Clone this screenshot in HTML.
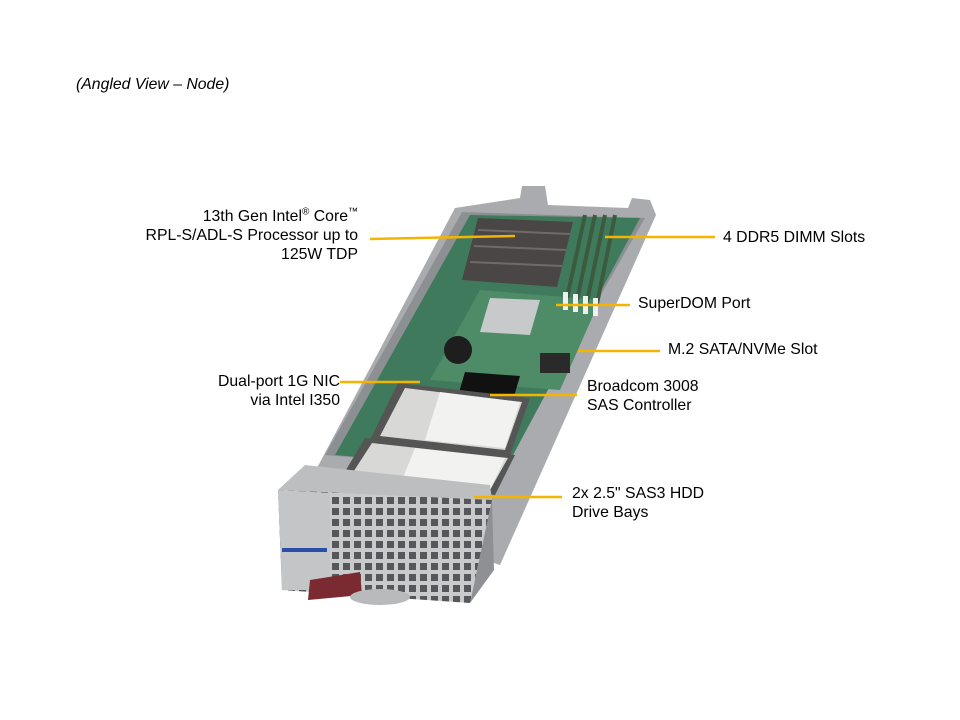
<!DOCTYPE html>
<html><head><meta charset="utf-8"><style>
body{margin:0;background:#fff;}
#c{position:relative;width:960px;height:720px;overflow:hidden;font-family:"Liberation Sans",Arial,sans-serif;font-size:15.8px;color:#000;}
.t{position:absolute;line-height:19px;white-space:nowrap;}
.r{text-align:right;}
sup{font-size:10px;line-height:0;}
</style></head><body><div id="c">
<svg width="960" height="720" style="position:absolute;left:0;top:0">
<defs>
<pattern id="mesh" width="11" height="11" patternUnits="userSpaceOnUse">
<rect width="11" height="11" fill="#c9cacc"/><rect x="2" y="2" width="7" height="7" fill="#55575a"/>
</pattern>
</defs>
<polygon points="455,208 520,198 522,186 545,186 548,205 628,208 632,198 650,200 656,215 500,565 300,500" fill="#a9abae"/>
<polygon points="462,212 645,218 500,470 325,455" fill="#8d9092"/>
<polygon points="470,215 640,218 505,470 335,455" fill="#3f7a5c"/>
<polygon points="480,290 600,300 560,390 430,380" fill="#4e8c68"/>
<polygon points="478,218 573,222 557,287 462,280" fill="#4a4646"/>
<g stroke="#6e6a68" stroke-width="2"><line x1="478" y1="230" x2="570" y2="234"/><line x1="474" y1="246" x2="566" y2="250"/><line x1="470" y1="262" x2="562" y2="266"/></g>
<g stroke="#3c5a3e" stroke-width="4"><line x1="585" y1="215" x2="567" y2="298"/><line x1="595" y1="215" x2="577" y2="300"/><line x1="605" y1="215" x2="587" y2="302"/><line x1="615" y1="215" x2="597" y2="304"/></g>
<g fill="#eef0f2"><rect x="563" y="292" width="5" height="18"/><rect x="573" y="294" width="5" height="18"/><rect x="583" y="296" width="5" height="18"/><rect x="593" y="298" width="5" height="18"/></g>
<polygon points="490,298 540,300 530,335 480,332" fill="#c8c9cb"/>
<circle cx="458" cy="350" r="14" fill="#1e1e1e"/>
<rect x="540" y="353" width="30" height="20" fill="#2a2a2a"/>
<polygon points="465,372 520,376 510,410 455,406" fill="#111"/>
<polygon points="398,383 530,398 510,455 370,440" fill="#555"/>
<polygon points="405,388 522,402 505,450 380,436" fill="#d8d8d6"/>
<polygon points="440,392 520,402 505,448 425,440" fill="#f2f2f0"/>
<polygon points="365,438 515,455 495,495 340,480" fill="#555"/>
<polygon points="372,443 508,458 490,490 350,477" fill="#d8d8d6"/>
<polygon points="415,448 505,458 490,490 400,485" fill="#f2f2f0"/>
<polygon points="305,465 490,485 492,500 278,490" fill="#bdbec0"/>
<polygon points="278,490 492,500 470,603 282,590" fill="url(#mesh)"/>
<polygon points="278,490 330,493 330,590 282,590" fill="#c4c5c7"/>
<rect x="282" y="548" width="45" height="4" fill="#2b4fa8"/>
<polygon points="492,500 494,570 470,603" fill="#8e9093"/>
<polygon points="310,580 360,572 362,595 308,600" fill="#7a2a30"/>
<ellipse cx="380" cy="597" rx="30" ry="8" fill="#b9babc"/>
<g stroke="#f5b400" stroke-width="2.5">
<line x1="370" y1="239" x2="515" y2="236"/>
<line x1="605" y1="237" x2="715" y2="237"/>
<line x1="556" y1="305" x2="630" y2="305"/>
<line x1="578" y1="351" x2="660" y2="351"/>
<line x1="340" y1="382" x2="420" y2="382"/>
<line x1="490" y1="395" x2="577" y2="395"/>
<line x1="474" y1="497" x2="562" y2="497"/>
</g>
</svg>
<div class="t" style="left:76px;top:75px;font-style:italic;">(Angled View – Node)</div>
<div class="t r" style="right:602px;top:207px;">13th Gen Intel<sup>®</sup> Core<sup>™</sup><br>RPL-S/ADL-S Processor up to<br>125W TDP</div>
<div class="t" style="left:723px;top:228px;">4 DDR5 DIMM Slots</div>
<div class="t" style="left:638px;top:294px;">SuperDOM Port</div>
<div class="t" style="left:668px;top:340px;">M.2 SATA/NVMe Slot</div>
<div class="t r" style="right:620px;top:372px;">Dual-port 1G NIC<br>via Intel I350</div>
<div class="t" style="left:587px;top:377px;">Broadcom 3008<br>SAS Controller</div>
<div class="t" style="left:572px;top:484px;">2x 2.5" SAS3 HDD<br>Drive Bays</div>
</div></body></html>
